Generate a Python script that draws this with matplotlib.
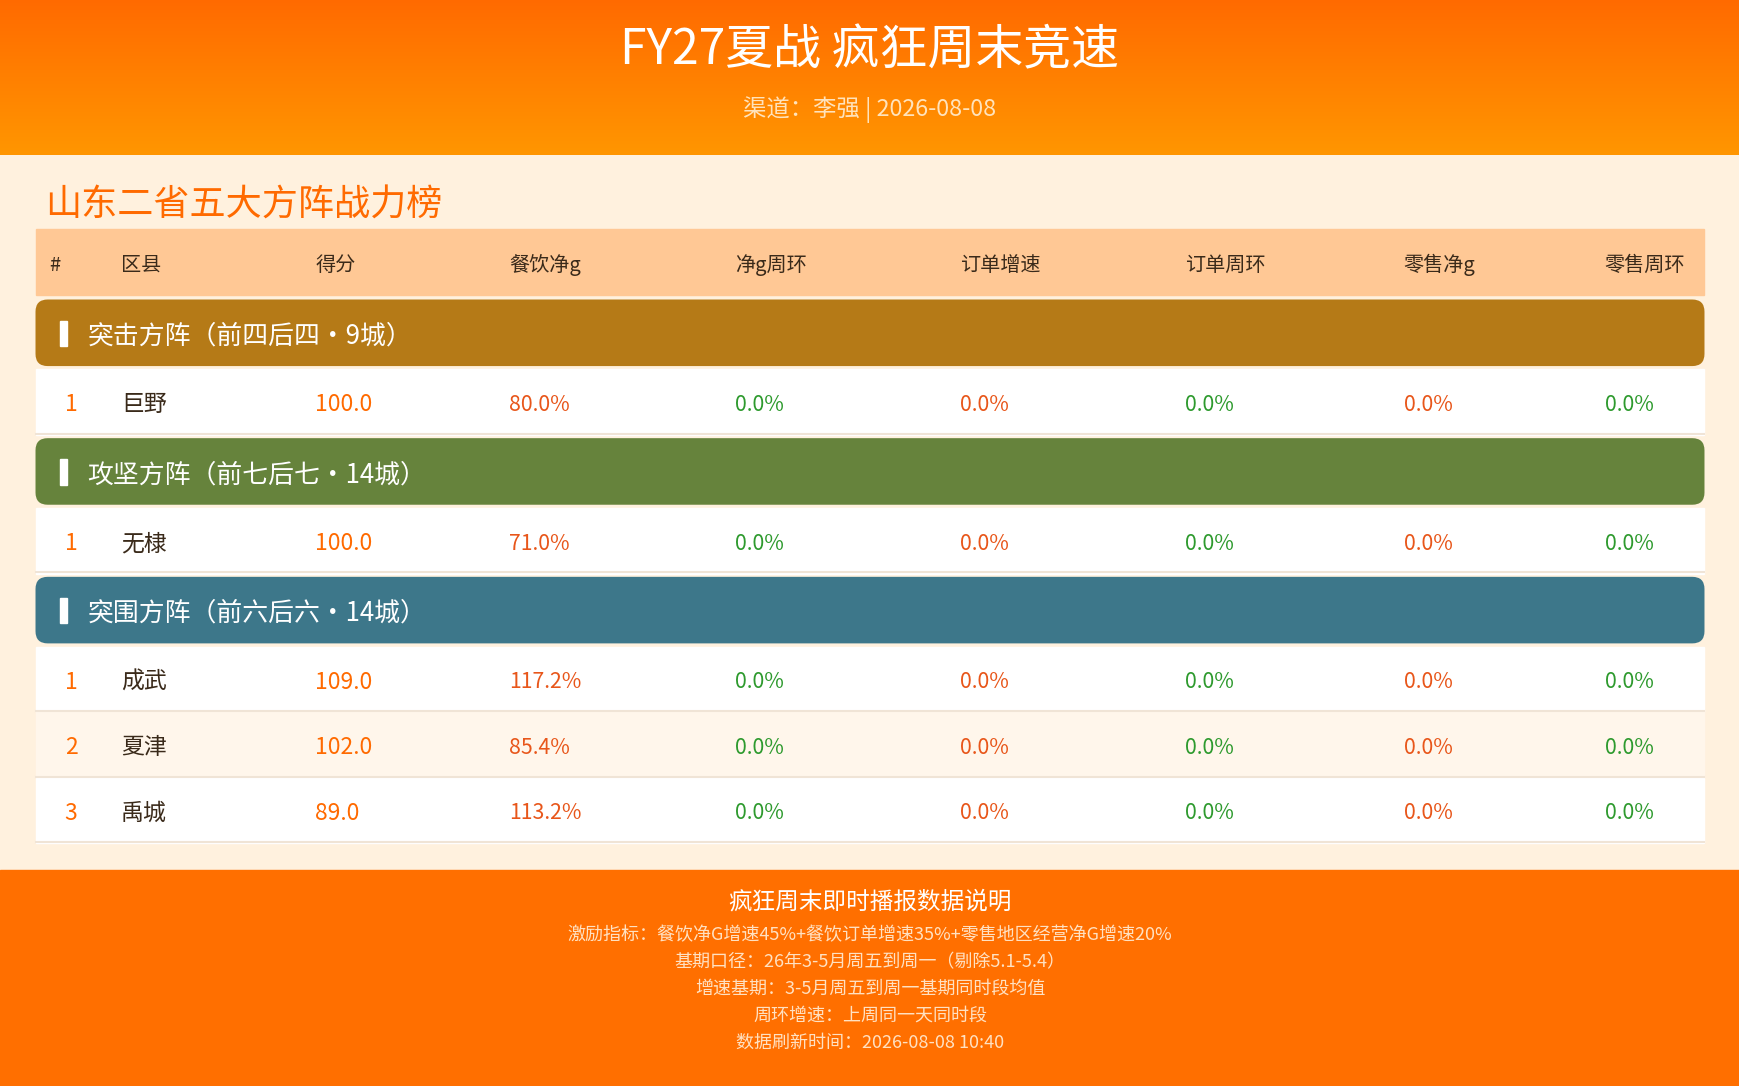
import numpy as np
import matplotlib.pyplot as plt
from matplotlib.patches import Rectangle, FancyBboxPatch

plt.rcParams['font.family'] = ['Noto Sans CJK SC', 'DejaVu Sans']

# ---- data ----
title = 'FY27夏战 疯狂周末竞速'
subtitle = '渠道：李强 | 2026-08-08'
board_title = '山东二省五大方阵战力榜'
columns = ['#', '区县', '得分', '餐饮净g', '净g周环', '订单增速', '订单周环', '零售净g', '零售周环']

groups = ['突击方阵（前四后四・9城）', '攻坚方阵（前七后七・14城）', '突围方阵（前六后六・14城）']
group_colors = ['#B57A17', '#66833C', '#3D778A']
group_ranks = [[1], [1], [1, 2, 3]]
group_names = [['巨野'], ['无棣'], ['成武', '夏津', '禹城']]
group_scores = [[100.0], [100.0], [109.0, 102.0, 89.0]]
group_food_g = [[80.0], [71.0], [117.2, 85.4, 113.2]]
group_food_wow = [[0.0], [0.0], [0.0, 0.0, 0.0]]
group_order_g = [[0.0], [0.0], [0.0, 0.0, 0.0]]
group_order_wow = [[0.0], [0.0], [0.0, 0.0, 0.0]]
group_retail_g = [[0.0], [0.0], [0.0, 0.0, 0.0]]
group_retail_wow = [[0.0], [0.0], [0.0, 0.0, 0.0]]

footer_title = '疯狂周末即时播报数据说明'
footer_lines = [
    '激励指标：餐饮净G增速45%+餐饮订单增速35%+零售地区经营净G增速20%',
    '基期口径：26年3-5月周五到周一（剔除5.1-5.4）',
    '增速基期：3-5月周五到周一基期同时段均值',
    '周环增速：上周同一天同时段',
    '数据刷新时间：2026-08-08 10:40',
]

# ---- layout (in 1568 x 979 canvas units) ----
W, H = 1568, 979
col_x = [44, 109, 284, 459, 662, 865, 1068, 1265, 1446]
ORANGE = '#FF6A00'
RED_ORANGE = '#E8561A'
GREEN = '#2E9A2E'
DARK = '#3A2A1A'

fig = plt.figure(figsize=(17.4, 10.86), dpi=100)
ax = fig.add_axes([0, 0, 1, 1])

# background
ax.add_patch(Rectangle((0, 0), W, H, color='#FFF1DE', zorder=0))

# header gradient
grad = np.linspace(0, 1, 256).reshape(-1, 1)
top = np.array([0xFF, 0x6A, 0x00]) / 255
bot = np.array([0xFF, 0x96, 0x00]) / 255
img = (top + (bot - top) * grad).reshape(256, 1, 3)
ax.imshow(img, extent=(0, W, 140, 0), aspect='auto', zorder=1)
ax.set_xlim(0, W)
ax.set_ylim(H, 0)
ax.axis('off')

ax.text(W / 2, 46, title, color='white', fontsize=34.5, ha='center', va='center', zorder=3)
ax.text(W / 2, 99, subtitle, color='#FFE3BC', fontsize=16.8, ha='center', va='center', zorder=3)

ax.text(41, 185, board_title, color=ORANGE, fontsize=26, ha='left', va='center', zorder=3)

# table header
ax.add_patch(Rectangle((32, 206), 1504, 60, color='#FFC895', zorder=1))
for x, c in zip(col_x, columns):
    ax.text(x, 239, c, color=DARK, fontsize=14.5, ha='left', va='center', zorder=3)

y = 270
row_h = 58
for gi, g in enumerate(groups):
    ax.add_patch(FancyBboxPatch((32, y), 1504, 60, boxstyle='round,pad=0,rounding_size=11',
                                facecolor=group_colors[gi], edgecolor='none', zorder=1))
    ax.add_patch(Rectangle((54, y + 19), 6, 23, color='white', zorder=2))
    ax.text(79, y + 33, g, color='white', fontsize=18.6, ha='left', va='center', zorder=3)
    y += 63
    for ri in range(len(group_names[gi])):
        bg = '#FFFFFF' if ri % 2 == 0 else '#FFF6EB'
        ax.add_patch(Rectangle((32, y), 1504, row_h + 1, color=bg, zorder=1))
        ax.plot([32, 1536], [y + row_h, y + row_h], color='#F0E4D6', lw=1.5, zorder=2)
        cy = y + 32
        vals = [
            (str(group_ranks[gi][ri]), ORANGE),
            (group_names[gi][ri], DARK),
            ('%.1f' % group_scores[gi][ri], ORANGE),
            ('%.1f%%' % group_food_g[gi][ri], RED_ORANGE),
            ('%.1f%%' % group_food_wow[gi][ri], GREEN),
            ('%.1f%%' % group_order_g[gi][ri], RED_ORANGE),
            ('%.1f%%' % group_order_wow[gi][ri], GREEN),
            ('%.1f%%' % group_retail_g[gi][ri], RED_ORANGE),
            ('%.1f%%' % group_retail_wow[gi][ri], GREEN),
        ]
        for ci, (txt, col) in enumerate(vals):
            xx = col_x[ci] + 20 if ci == 0 else col_x[ci]
            fs = 16.5 if ci in (0, 1, 2) else 15.3
            ax.text(xx, cy, txt, color=col, fontsize=fs, ha='center' if ci == 0 else 'left',
                    va='center', zorder=3)
        y += row_h + 1
    y += 3

# footer
ax.add_patch(Rectangle((0, 784), W, H - 784, color='#FF6F00', zorder=1))
ax.text(W / 2, 813, footer_title, color='white', fontsize=17, ha='center', va='center', zorder=3)
for i, line in enumerate(footer_lines):
    ax.text(W / 2, 843 + i * 24.3, line, color='#FFE1C2', fontsize=13,
            ha='center', va='center', zorder=3)

fig.savefig('out.png', dpi=100)
